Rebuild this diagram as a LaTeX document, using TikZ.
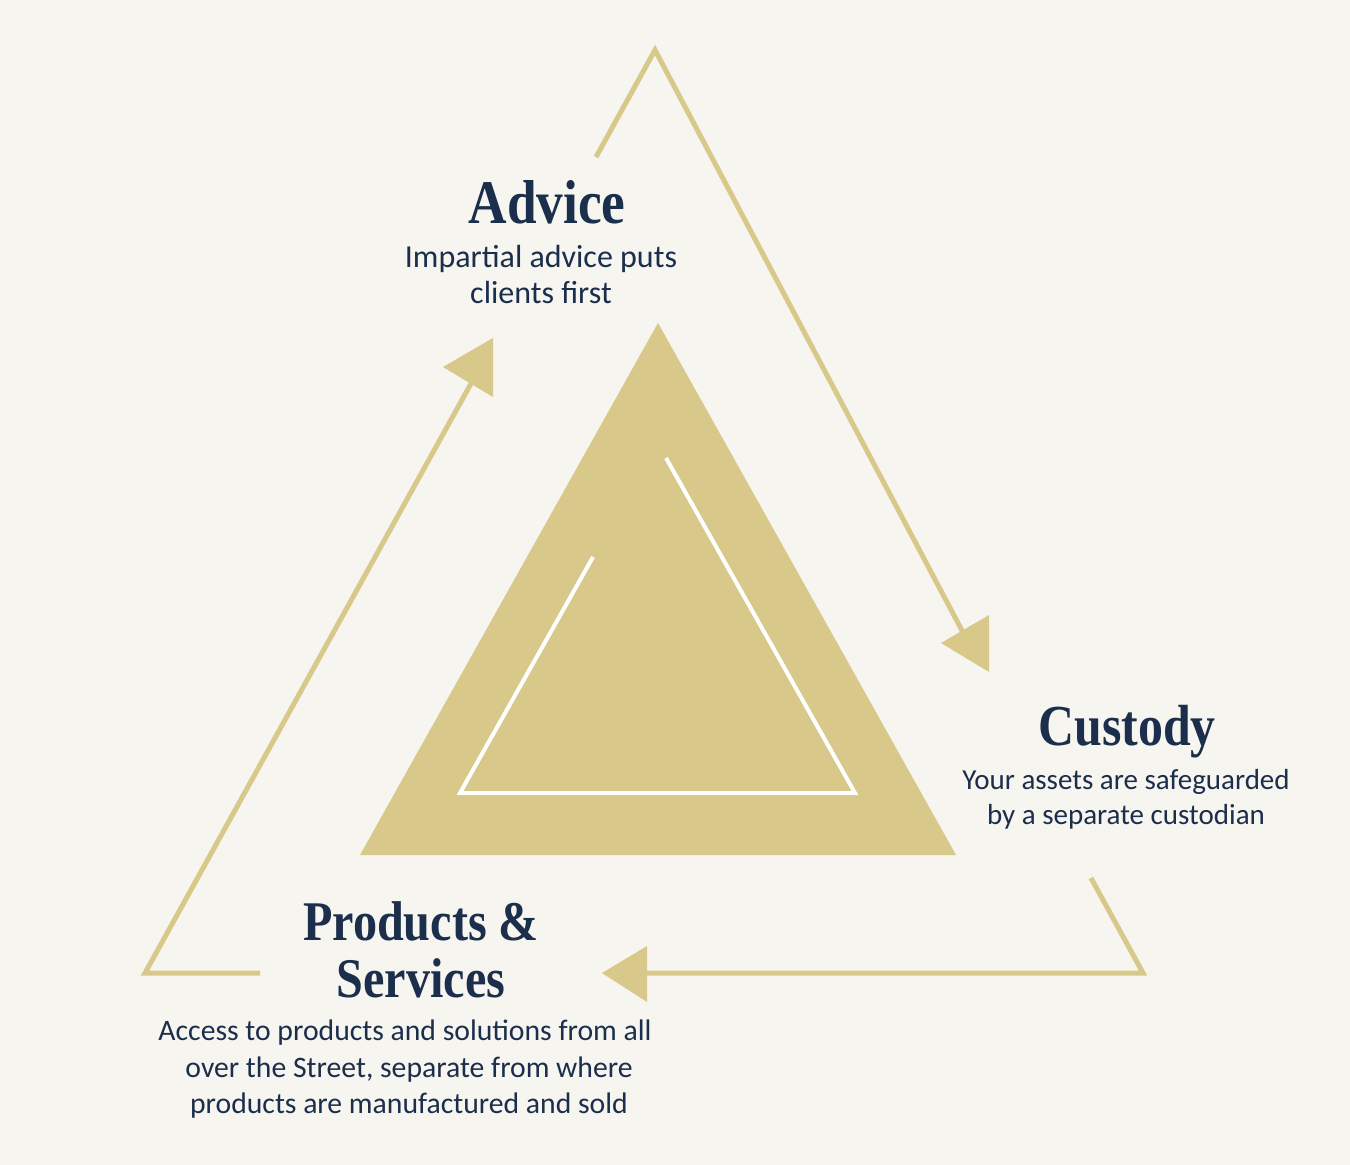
\documentclass[tikz,border=0pt]{standalone}
\usepackage{fontspec}
\setmainfont{Carlito}
\newfontfamily\headfont[FakeStretch=0.86]{Liberation Serif}
\definecolor{bgc}{HTML}{F6F5F0}
\definecolor{gold}{HTML}{D8C98A}
\definecolor{navy}{HTML}{1B2E4B}
\tikzset{
  goldline/.style={draw=gold, line width=5pt, line join=miter},
  whiteline/.style={draw=white, line width=4pt, line join=miter},
  arrowtri/.style={fill=gold},
  headtxt/.style={anchor=base, inner sep=0pt, text=navy, font=\headfont\bfseries\fontsize{58}{60}\selectfont},
  bodytxt/.style={anchor=base, inner sep=0pt, text=navy, font=\fontsize{29}{36}\selectfont},
}
\begin{document}
\begin{tikzpicture}[x=1pt, y=-1pt]
\fill[bgc] (0,0) rectangle (1350,1165);
\useasboundingbox (0,0) rectangle (1350,1165);

% outer triangle corners and segment ends
\coordinate (A) at (655,50);
\coordinate (B) at (1143,973);
\coordinate (C) at (145,973);
\coordinate (a1) at (596,157);
\coordinate (a2) at (967,640);
\coordinate (b1) at (1091,878);
\coordinate (b2) at (647,973);
\coordinate (c1) at (260,973);
\coordinate (c2) at (473,380);

% inner gold triangle
\coordinate (T) at (658,323);
\coordinate (TR) at (956,855);
\coordinate (TL) at (360,855);
\fill[gold] (T) -- (TR) -- (TL) -- cycle;

% white inner open triangle
\coordinate (w1) at (666,458);
\coordinate (w2) at (855,793);
\coordinate (w3) at (460,793);
\coordinate (w4) at (593,557);
\draw[whiteline] (w1) -- (w2) -- (w3) -- (w4);

% outer path segments
\draw[goldline] (a1) -- (A) -- (a2);
\draw[goldline] (b1) -- (B) -- (b2);
\draw[goldline] (c1) -- (C) -- (c2);

% arrowheads
\fill[arrowtri] (443,367) -- (493,338) -- (493,397) -- cycle;
\fill[arrowtri] (941,643) -- (989,615) -- (989,672) -- cycle;
\fill[arrowtri] (602,973) -- (647,946) -- (647,1002) -- cycle;

% Advice
\node[headtxt, font=\headfont\bfseries\fontsize{62}{64}\selectfont] (advh) at (547,223) {Advice};
\node[bodytxt, font=\fontsize{32}{36}\selectfont] (adv1) at (541,267) {Impartial advice puts};
\node[bodytxt, font=\fontsize{32}{36}\selectfont] (adv2) at (541,303) {clients first};

% Custody
\node[headtxt] (cush) at (1127,745) {Custody};
\node[bodytxt] (cus1) at (1126,789) {Your assets are safeguarded};
\node[bodytxt] (cus2) at (1126,824) {by a separate custodian};

% Products & Services
\node[headtxt, font=\headfont\bfseries\fontsize{56}{58}\selectfont] (prh1) at (421,940) {Products \&};
\node[headtxt, font=\headfont\bfseries\fontsize{56}{58}\selectfont] (prh2) at (421,997) {Services};
\node[bodytxt, font=\fontsize{29.7}{36}\selectfont] (pr1) at (405,1040) {Access to products and solutions from all};
\node[bodytxt, font=\fontsize{29.7}{36}\selectfont] (pr2) at (409,1077) {over the Street, separate from where};
\node[bodytxt, font=\fontsize{29.7}{36}\selectfont] (pr3) at (409,1113) {products are manufactured and sold};
\end{tikzpicture}
\end{document}
